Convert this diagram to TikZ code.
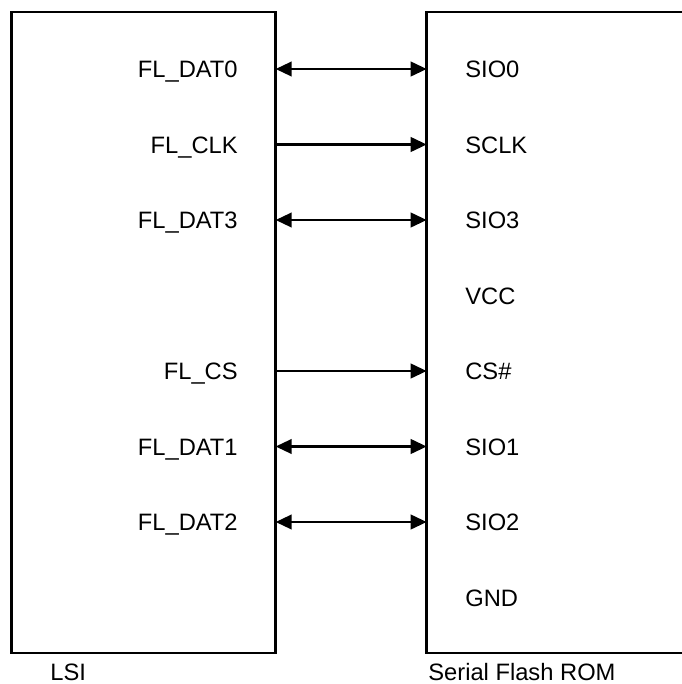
\documentclass[tikz,border=0pt]{standalone}
\usepackage{fontspec}
\setmainfont{Liberation Sans}
\usetikzlibrary{arrows.meta}

\begin{document}
\begin{tikzpicture}[x=0.02cm, y=-0.02cm,
    every node/.style={font=\fontsize{13.5}{16}\selectfont},
    chip/.style={draw, line width=1.4pt, inner sep=0pt, outer sep=0pt},
    pinl/.style={anchor=east, inner sep=0pt, text height=9.7pt, text depth=0pt},
    pinr/.style={anchor=west, inner sep=0pt, text height=9.7pt, text depth=0pt},
    chipname/.style={anchor=base west, inner sep=0pt},
    sig/.style={line width=1.4pt, -{Triangle[length=0.32cm,width=0.29cm]}},
    bus/.style={line width=1.4pt, {Triangle[length=0.32cm,width=0.29cm]}-{Triangle[length=0.32cm,width=0.29cm]}}]
    \path[use as bounding box, clip] (0,0) rectangle (682,684);
    % ---- LSI ----
    \node[chip, minimum width=5.284cm, minimum height=12.82cm] (lsi) at (143.6,332.5) {};
    \node[pinl] (dat0) at (238,69) {FL\_DAT0};
    \node[pinl] (clk) at (238,144.5) {FL\_CLK};
    \node[pinl] (dat3) at (238,220) {FL\_DAT3};
    \node[pinl] (cs) at (238,371) {FL\_CS};
    \node[pinl] (dat1) at (238,446.5) {FL\_DAT1};
    \node[pinl] (dat2) at (238,522) {FL\_DAT2};
    \node[chipname] (lsiname) at (50,680.5) {LSI};
    % ---- Serial Flash ROM ----
    \node[chip, anchor=west, minimum width=7cm, minimum height=12.82cm] (rom) at (426.7,332.5) {};
    \node[pinr] (sio0) at (465,69) {SIO0};
    \node[pinr] (sclk) at (465,144.5) {SCLK};
    \node[pinr] (sio3) at (465,220) {SIO3};
    \node[pinr] (vcc) at (465,295.5) {VCC};
    \node[pinr] (csn) at (465,371) {CS\#};
    \node[pinr] (sio1) at (465,446.5) {SIO1};
    \node[pinr] (sio2) at (465,522) {SIO2};
    \node[pinr] (gnd) at (465,597.5) {GND};
    \node[chipname] (romname) at (428,680.5) {Serial Flash ROM};
    % ---- Signals ----
    \draw[bus] (lsi.east |- dat0.east) -- (rom.west |- sio0.west);
    \draw[sig] (lsi.east |- clk.east) -- (rom.west |- sclk.west);
    \draw[bus] (lsi.east |- dat3.east) -- (rom.west |- sio3.west);
    \draw[sig] (lsi.east |- cs.east) -- (rom.west |- csn.west);
    \draw[bus] (lsi.east |- dat1.east) -- (rom.west |- sio1.west);
    \draw[bus] (lsi.east |- dat2.east) -- (rom.west |- sio2.west);
\end{tikzpicture}
\end{document}
